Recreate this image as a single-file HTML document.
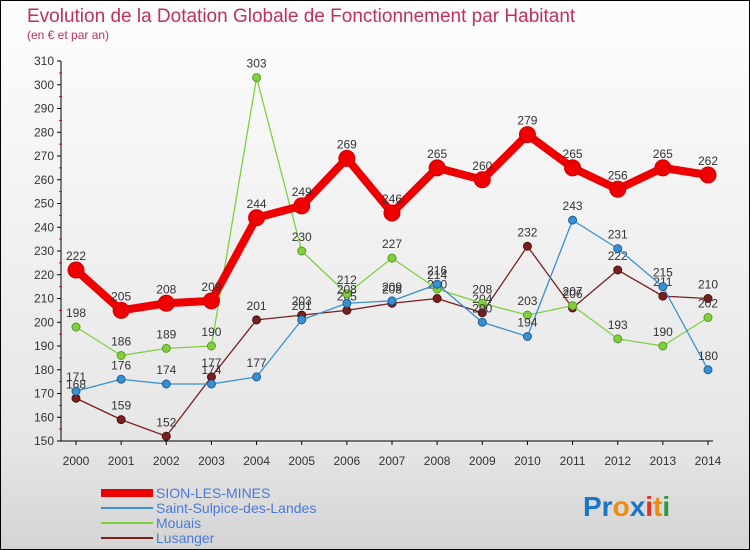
<!DOCTYPE html>
<html><head><meta charset="utf-8"><style>
body{margin:0}
#c{width:748px;height:548px;border:1px solid #000;background:linear-gradient(#fdfdfd,#e6e6e6 80%,#d4d4d4);position:relative;font-family:"Liberation Sans",sans-serif;overflow:hidden}
</style></head><body>
<div id="c">
<svg id="s" width="748" height="548" xmlns="http://www.w3.org/2000/svg">
<text x="26" y="21" font-size="19" fill="#c0305a">Evolution de la Dotation Globale de Fonctionnement par Habitant</text>
<text x="26" y="38" font-size="12" fill="#c0305a">(en € et par an)</text>
<g id="g"></g>
<text x="582" y="515" font-size="28" font-weight="bold"><tspan fill="#1a75c8">Pr</tspan><tspan fill="#f08a10">o</tspan><tspan fill="#1a75c8">x</tspan><tspan fill="#e83020">i</tspan><tspan fill="#f08a10">t</tspan><tspan fill="#2a9a3a">i</tspan></text>
</svg></div>
<script>
const years=[2000,2001,2002,2003,2004,2005,2006,2007,2008,2009,2010,2011,2012,2013,2014];
const sion=[222,205,208,209,244,249,269,246,265,260,279,265,256,265,262];
const sulpice=[171,176,174,174,177,201,208,209,216,200,194,243,231,215,180];
const mouais=[198,186,189,190,303,230,212,227,214,208,203,207,193,190,202];
const lusanger=[168,159,152,177,201,203,205,208,210,204,232,206,222,211,210];
const yTicks=[150,160,170,180,190,200,210,220,230,240,250,260,270,280,290,300,310];
const X=i=>75+i*(632/14), Y=v=>60+(310-v)*2.375;
const g=document.getElementById('g'),NS='http://www.w3.org/2000/svg';
function mk(t,a){const e=document.createElementNS(NS,t);for(const k in a)e.setAttribute(k,a[k]);g.appendChild(e);return e;}
let e=mk('line',{x1:60,y1:60,x2:60,y2:440,stroke:'#000'});

e=mk('line',{x1:60,y1:440,x2:712,y2:440,stroke:'#000'});

yTicks.forEach(v=>{e=mk('line',{x1:56,y1:Y(v),x2:60,y2:Y(v),stroke:'#000'});

if(v<310){e=mk('line',{x1:58,y1:Y(v+5),x2:61,y2:Y(v+5),stroke:'#e00'});
}
e=mk('text',{x:53,y:Y(v)+4,'font-size':12,fill:'#333','text-anchor':'end'});e.textContent=v;
});
years.forEach((y,i)=>{e=mk('line',{x1:X(i),y1:440,x2:X(i),y2:444,stroke:'#000'});

e=mk('text',{x:X(i),y:464,'font-size':12,fill:'#333','text-anchor':'middle'});e.textContent=y;
});
function series(d,col,dark,w,r,name){
 e=mk('polyline',{points:d.map((v,i)=>X(i)+','+Y(v)).join(' '),fill:'none',stroke:col,'stroke-width':w,'stroke-linejoin':'round'});
 
 d.forEach((v,i)=>{e=mk('circle',{cx:X(i),cy:Y(v),r:r,fill:col,stroke:dark,'stroke-width':1});
 
 e=mk('text',{x:X(i),y:Y(v)-10,'font-size':12,fill:'#333','text-anchor':'middle'});e.textContent=v;
 });
}
series(lusanger,'#7a1f1f','#4a0f0f',1.3,4,'lusanger');
series(mouais,'#7fd040','#5a9a20',1.3,4,'mouais');
series(sulpice,'#3a8fd0','#1a5f9a',1.3,4,'saint-sulpice');
series(sion,'#ee0000','#cc0000',8,8,'sion-les-mines');
const leg=[['SION-LES-MINES','#ee0000',8],['Saint-Sulpice-des-Landes','#3a8fd0',2],['Mouais','#7fd040',2],['Lusanger','#7a1f1f',2]];
leg.forEach((l,i)=>{const y=492+i*15;
 e=mk('line',{x1:100,y1:y,x2:152,y2:y,stroke:l[1],'stroke-width':l[2]});
 
 e=mk('text',{x:155,y:y+5,'font-size':14,fill:'#4a7ad8'});e.textContent=l[0];
 });
</script></body></html>
